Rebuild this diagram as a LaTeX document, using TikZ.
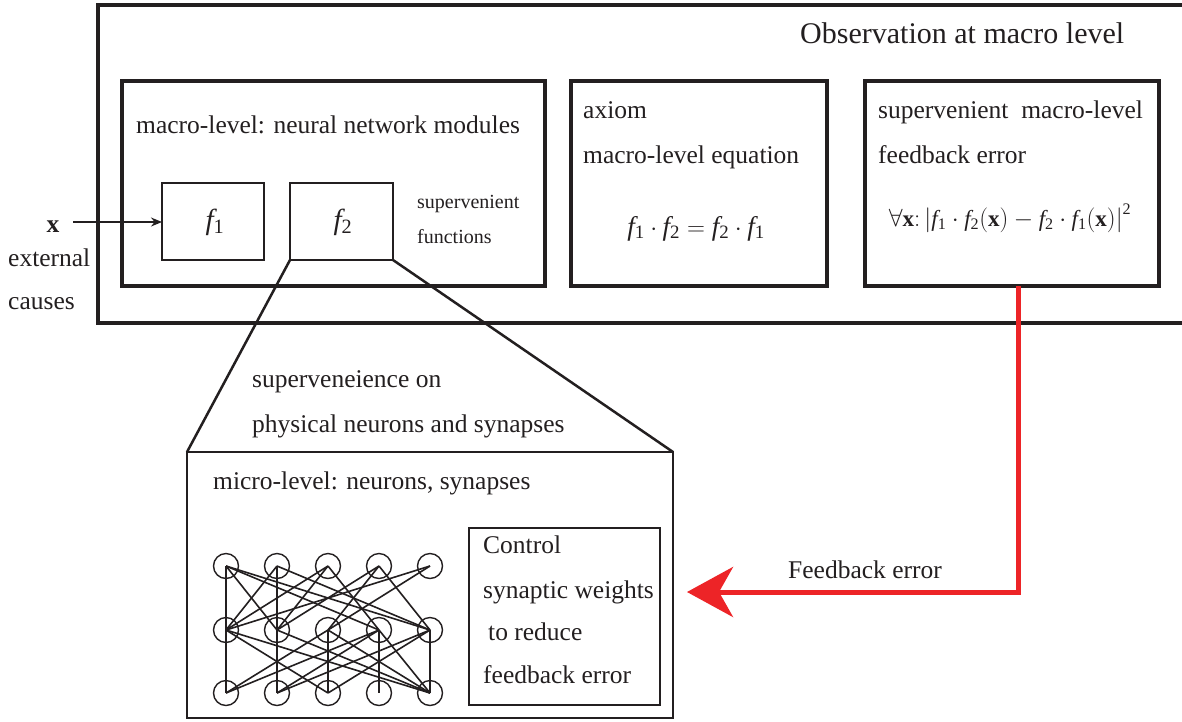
\documentclass[tikz,border=0pt]{standalone}
\usepackage{fontspec}
\setmainfont{Liberation Serif}
\usetikzlibrary{arrows.meta}
\definecolor{ink}{RGB}{35,31,32}
\definecolor{fbred}{RGB}{237,36,39}
\newcommand{\ff}[1]{\mathit{f}_{\mathrm{#1}}}
\newcommand{\bx}{\mathbf{x}}
\begin{document}
\begin{tikzpicture}[x=1pt,y=-1pt,
  thickbox/.style={draw=ink, line width=4pt, inner sep=0pt, outer sep=0pt, anchor=north west},
  thinbox/.style={draw=ink, line width=1.5pt, inner sep=0pt, outer sep=0pt, anchor=north west},
  txt/.style={anchor=base west, inner sep=0pt, text=ink, font=\fontsize{25.5}{30}\selectfont},
  smalltxt/.style={anchor=base west, inner sep=0pt, text=ink, font=\fontsize{20}{24}\selectfont},
  mathtxt/.style={anchor=base, inner sep=0pt, text=ink, font=\fontsize{27}{32}\selectfont},
  neuron/.style={circle, draw=ink, line width=1.4pt, minimum size=25pt, inner sep=0pt},
  syn/.style={line width=1.6pt, draw=ink},
  zoomline/.style={line width=2.5pt, draw=ink},
]
\useasboundingbox (0,0) rectangle (1182,721);
\fill[white] (0,0) rectangle (1182,721);

% outer macro frame (extends beyond right edge)
\node[thickbox, minimum width=1110pt, minimum height=318pt] (outer) at (98,5) {};
\node[txt, font=\fontsize{30}{36}\selectfont] (title) at (800,43) {Observation at macro level};

% macro-level boxes
\node[thickbox, minimum width=423pt, minimum height=205pt] (box1) at (122,81) {};
\node[thickbox, minimum width=256pt, minimum height=205pt] (box2) at (571,81) {};
\node[thickbox, minimum width=294pt, minimum height=205pt] (box3) at (865,81) {};

\node[txt] (t1) at (136,133) {macro-level: neural network modules};
\node[thinbox, minimum width=102pt, minimum height=77pt] (f1) at (162,183) {};
\node[thinbox, minimum width=103pt, minimum height=77pt] (f2) at (290,183) {};
\node[mathtxt, font=\fontsize{29}{34}\selectfont] (f1t) at (215,229) {$\ff{1}$};
\node[mathtxt, font=\fontsize{29}{34}\selectfont] (f2t) at (343,229) {$\ff{2}$};
\node[smalltxt] (sf1) at (417,208) {supervenient};
\node[smalltxt] (sf2) at (417,243) {functions};

\node[txt] (ax1) at (583,118) {axiom};
\node[txt] (ax2) at (583,163) {macro-level equation};
\node[mathtxt] (eq) at (696,235) {$\ff{1}\cdot \ff{2} = \ff{2}\cdot \ff{1}$};

\node[txt] (sv1) at (878,118) {supervenient\ \ macro-level};
\node[txt] (sv2) at (878,163) {feedback error};
\node[mathtxt, font=\fontsize{23}{27}\selectfont] (fe) at (1010,226)
  {$\forall\bx\colon\left|\ff{1}\cdot \ff{2}(\bx)-\ff{2}\cdot \ff{1}(\bx)\right|^{\mathrm{2}}$};

% external input
\node[txt, anchor=base, font=\fontsize{25.5}{30}\selectfont\bfseries] (xin) at (53,232) {x};
\node[txt] (ext1) at (8,266) {external};
\node[txt] (ext2) at (8,309) {causes};
\coordinate (xstart) at (73,222);
\draw[ink, line width=1.5pt, -{Stealth[length=11pt, width=9pt]}] (xstart) -- (f1.west |- xstart);

% micro level
\node[thinbox, minimum width=486pt, minimum height=266pt] (micro) at (187,452) {};
\draw[zoomline] (f2.south west) -- (micro.north west);
\draw[zoomline] (f2.south east) -- (micro.north east);
\node[txt] (sup1) at (252,387) {superveneience on};
\node[txt] (sup2) at (252,432) {physical neurons and synapses};
\node[txt] (mic) at (213,489) {micro-level: neurons, synapses};

\node[thinbox, minimum width=191pt, minimum height=177pt] (ctrl) at (469,528) {};
\node[txt] (c1) at (483,553) {Control};
\node[txt] (c2) at (483,598) {synaptic weights};
\node[txt] (c3) at (488,640) {to reduce};
\node[txt] (c4) at (483,683) {feedback error};

% neurons
\foreach \c/\x in {1/226,2/277,3/328,4/379,5/430}{
  \foreach \r/\y in {1/566,2/630,3/693}{
    \node[neuron] (n\r\c) at (\x,\y) {};
  }
}
\foreach \a/\b in {1/1,1/2,1/4,1/5, 2/1,2/2,2/5, 3/1,3/2,3/4, 4/2,4/3,4/5, 5/1,5/3}{
  \draw[syn] (n1\a.center) -- (n2\b.center);
}
\foreach \a/\b in {1/1,1/3,1/5, 2/2,2/5, 3/1,3/3,3/5, 4/1,4/2,4/4,4/5, 5/2,5/3,5/5}{
  \draw[syn] (n2\a.center) -- (n3\b.center);
}

% feedback
\coordinate (fbcorner) at (1018,592);
\coordinate (fbtip) at (687,592);
\draw[fbred, line width=5pt, -{Stealth[length=46pt, width=50pt, inset=14pt]}]
  (box3.south -| fbcorner) -- (fbcorner) -- (fbtip);
\node[txt] (fbl) at (788,578) {Feedback error};
\end{tikzpicture}
\end{document}
